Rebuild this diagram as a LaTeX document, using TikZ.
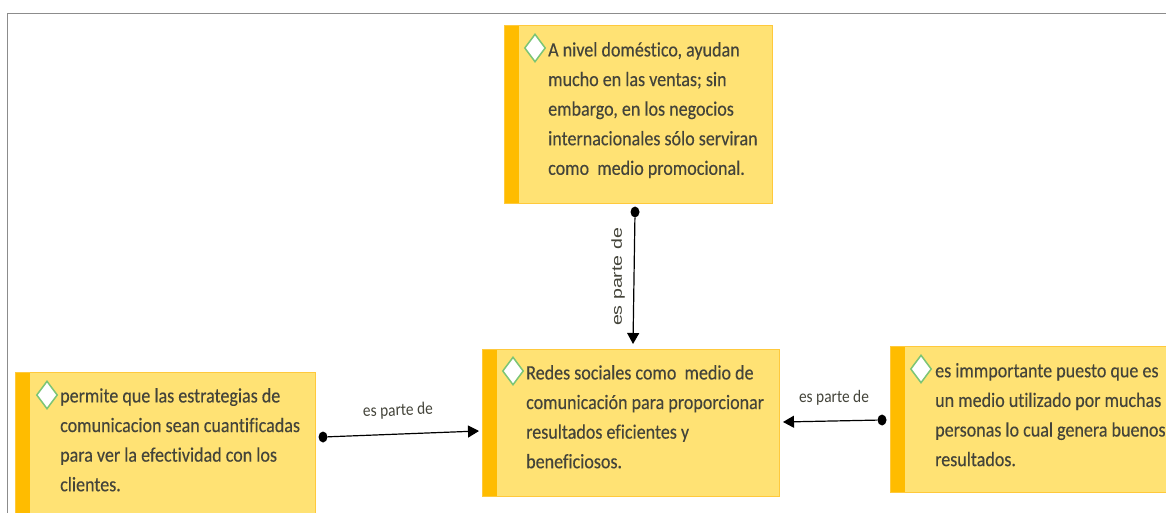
\documentclass[tikz,border=0pt]{standalone}
\usepackage{fontspec}
\setmainfont[FakeStretch=0.88,FakeBold=0.25,Ligatures=NoCommon]{Carlito}
\newfontfamily\relfont[FakeStretch=0.88,Ligatures=NoCommon]{Carlito}
\newfontfamily\widefont[FakeStretch=1.35]{Liberation Sans}
\usetikzlibrary{arrows.meta,shapes.geometric}
\definecolor{boxfill}{HTML}{FFE274}
\definecolor{boxline}{HTML}{FFC93C}
\definecolor{strip}{HTML}{FFBC00}
\definecolor{ink}{HTML}{44443A}
\definecolor{gemline}{HTML}{7CC576}
\tikzset{
  x=1pt,y=-1pt,
  box/.style={draw=boxline,line width=1pt,fill=boxfill,anchor=north west,inner sep=0pt,
    path picture={\fill[strip] (path picture bounding box.north west) rectangle ([xshift=14pt]path picture bounding box.south west);}},
  gem/.style={diamond,draw=gemline,line width=1.5pt,fill=white,inner sep=0pt,minimum width=21pt,minimum height=28pt},
  body/.style={anchor=north west,align=left,inner sep=0pt,text=ink,font=\fontsize{20.5}{29.6}\selectfont},
  rel/.style={font=\relfont\fontsize{17.5}{20}\selectfont,text=ink,inner sep=0pt},
  dot/.style={ellipse,fill=black,inner sep=0pt,minimum width=9pt,minimum height=11pt},
  link/.style={-{Triangle[length=11pt,width=12pt]},line width=1.2pt,black},
  frameline/.style={draw=black!45,line width=1pt}
}
\begin{document}
\begin{tikzpicture}
\useasboundingbox (0,0) rectangle (1166,513);
\clip (0,0) rectangle (1166,513);
\fill[white] (0,0) rectangle (1166,513);
\draw[frameline] (7.5,513) -- (7.5,13.5) -- (1166,13.5);

\node[box,minimum width=268pt,minimum height=178pt] (top) at (504,25) {};
\node[box,minimum width=297pt,minimum height=147pt] (mid) at (482,349) {};
\node[box,minimum width=300pt,minimum height=160pt] (lft) at (15,372) {};
\node[box,minimum width=300pt,minimum height=146pt] (rgt) at (890,346) {};

\node[gem] (g1) at (535,48) {};
\node[gem] (g2) at (513,371) {};
\node[gem] (g3) at (47,395) {};
\node[gem] (g4) at (921,369) {};

\node[body] (t1) at (548,42) {A nivel doméstico, ayudan\\mucho en las ventas; sin\\embargo, en los negocios\\internacionales sólo serviran\\como\ \ medio promocional.};
\node[body] (t2) at (526,365) {Redes sociales como\ \ medio de\\comunicación para proporcionar\\resultados eficientes y\\beneficiosos.};
\node[body] (t3) at (60,388) {permite que las estrategias de\\comunicacion sean cuantificadas\\para ver la efectividad con los\\clientes.};
\node[body] (t4) at (935,363) {es immportante puesto que es\\un medio utilizado por muchas\\personas lo cual genera buenos\\resultados.};

\node[dot] (d1) at (635,212) {};
\node[dot] (d2) at (323,437) {};
\node[dot] (d3) at (882,420) {};

\draw[link] (d1) -- ([xshift=2pt,yshift=5pt]mid.north);
\draw[link] (d2) -- ([xshift=-3pt,yshift=-8pt]mid.west);
\draw[link] (d3) -- ([xshift=3pt,yshift=1pt]mid.east);

\node[rel,font=\widefont\fontsize{14.5}{18}\selectfont,rotate=90] (l1) at (618,277) {es parte de};
\node[rel,rotate=2] (l2) at (398,411) {es parte de};
\node[rel] (l3) at (834,398) {es parte de};
\end{tikzpicture}
\end{document}
